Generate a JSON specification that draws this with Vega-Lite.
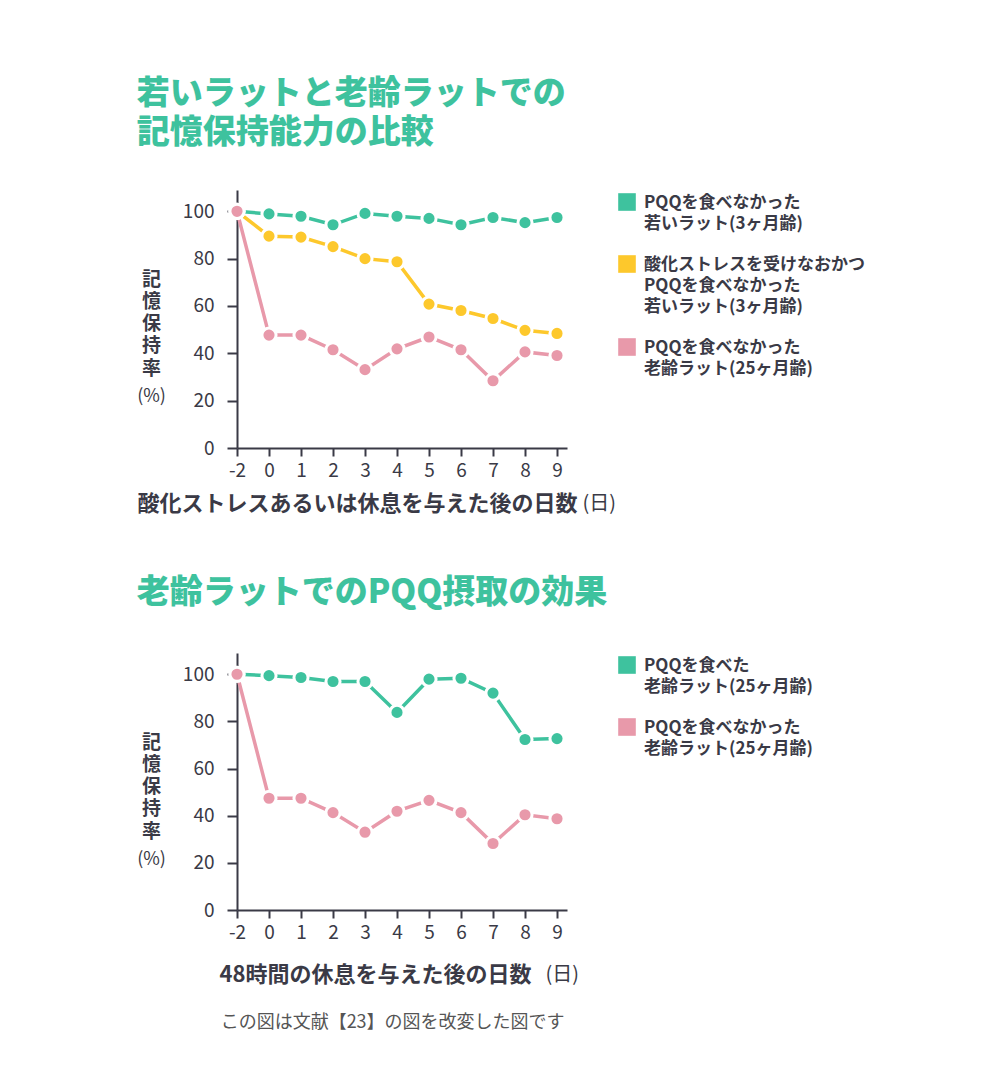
{
  "$schema": "https://vega.github.io/schema/vega-lite/v6.json",
  "background": "white",
  "padding": {"left": 136, "top": 78, "right": 0, "bottom": 0},
  "config": {
    "font": "Noto Sans CJK JP",
    "view": {"stroke": null},
    "axis": {
      "grid": false,
      "domainColor": "#3a3a46",
      "domainWidth": 2,
      "tickColor": "#3a3a46",
      "tickWidth": 2,
      "labelColor": "#3a3a46",
      "labelFontSize": 19,
      "titleColor": "#3a3a46"
    },
    "legend": {
      "orient": "right",
      "offset": 48,
      "padding": 3,
      "labelFontSize": 17,
      "labelFontWeight": "bold",
      "labelColor": "#3a3a46",
      "labelLimit": 0,
      "labelOffset": 8,
      "labelBaseline": "alphabetic",
      "symbolType": "square",
      "symbolSize": 310,
      "symbolStrokeWidth": 0,
      "symbolOpacity": 1,
      "rowPadding": 23,
      "title": null
    }
  },
  "title": {
    "text": "この図は文献【23】の図を改変した図です",
    "orient": "bottom",
    "anchor": "start",
    "dx": 84,
    "offset": 29,
    "fontSize": 18,
    "fontWeight": "normal",
    "color": "#555555"
  },
  "datasets": {
    "top": [
      {"day": -2, "value": 100, "series": "PQQを食べなかった|若いラット(3ヶ月齢)"},
      {"day": 0, "value": 98.9, "series": "PQQを食べなかった|若いラット(3ヶ月齢)"},
      {"day": 1, "value": 97.9, "series": "PQQを食べなかった|若いラット(3ヶ月齢)"},
      {"day": 2, "value": 94.3, "series": "PQQを食べなかった|若いラット(3ヶ月齢)"},
      {"day": 3, "value": 99.1, "series": "PQQを食べなかった|若いラット(3ヶ月齢)"},
      {"day": 4, "value": 97.9, "series": "PQQを食べなかった|若いラット(3ヶ月齢)"},
      {"day": 5, "value": 97.0, "series": "PQQを食べなかった|若いラット(3ヶ月齢)"},
      {"day": 6, "value": 94.3, "series": "PQQを食べなかった|若いラット(3ヶ月齢)"},
      {"day": 7, "value": 97.4, "series": "PQQを食べなかった|若いラット(3ヶ月齢)"},
      {"day": 8, "value": 95.2, "series": "PQQを食べなかった|若いラット(3ヶ月齢)"},
      {"day": 9, "value": 97.4, "series": "PQQを食べなかった|若いラット(3ヶ月齢)"},
      {"day": -2, "value": 100, "series": "酸化ストレスを受けなおかつ|PQQを食べなかった|若いラット(3ヶ月齢)"},
      {"day": 0, "value": 89.5, "series": "酸化ストレスを受けなおかつ|PQQを食べなかった|若いラット(3ヶ月齢)"},
      {"day": 1, "value": 89.1, "series": "酸化ストレスを受けなおかつ|PQQを食べなかった|若いラット(3ヶ月齢)"},
      {"day": 2, "value": 85.1, "series": "酸化ストレスを受けなおかつ|PQQを食べなかった|若いラット(3ヶ月齢)"},
      {"day": 3, "value": 80.0, "series": "酸化ストレスを受けなおかつ|PQQを食べなかった|若いラット(3ヶ月齢)"},
      {"day": 4, "value": 78.7, "series": "酸化ストレスを受けなおかつ|PQQを食べなかった|若いラット(3ヶ月齢)"},
      {"day": 5, "value": 60.8, "series": "酸化ストレスを受けなおかつ|PQQを食べなかった|若いラット(3ヶ月齢)"},
      {"day": 6, "value": 58.1, "series": "酸化ストレスを受けなおかつ|PQQを食べなかった|若いラット(3ヶ月齢)"},
      {"day": 7, "value": 54.7, "series": "酸化ストレスを受けなおかつ|PQQを食べなかった|若いラット(3ヶ月齢)"},
      {"day": 8, "value": 49.7, "series": "酸化ストレスを受けなおかつ|PQQを食べなかった|若いラット(3ヶ月齢)"},
      {"day": 9, "value": 48.4, "series": "酸化ストレスを受けなおかつ|PQQを食べなかった|若いラット(3ヶ月齢)"},
      {"day": -2, "value": 100, "series": "PQQを食べなかった|老齢ラット(25ヶ月齢)"},
      {"day": 0, "value": 47.7, "series": "PQQを食べなかった|老齢ラット(25ヶ月齢)"},
      {"day": 1, "value": 47.7, "series": "PQQを食べなかった|老齢ラット(25ヶ月齢)"},
      {"day": 2, "value": 41.5, "series": "PQQを食べなかった|老齢ラット(25ヶ月齢)"},
      {"day": 3, "value": 33.1, "series": "PQQを食べなかった|老齢ラット(25ヶ月齢)"},
      {"day": 4, "value": 41.9, "series": "PQQを食べなかった|老齢ラット(25ヶ月齢)"},
      {"day": 5, "value": 46.9, "series": "PQQを食べなかった|老齢ラット(25ヶ月齢)"},
      {"day": 6, "value": 41.5, "series": "PQQを食べなかった|老齢ラット(25ヶ月齢)"},
      {"day": 7, "value": 28.4, "series": "PQQを食べなかった|老齢ラット(25ヶ月齢)"},
      {"day": 8, "value": 40.6, "series": "PQQを食べなかった|老齢ラット(25ヶ月齢)"},
      {"day": 9, "value": 39.1, "series": "PQQを食べなかった|老齢ラット(25ヶ月齢)"}
    ],
    "bottom": [
      {"day": -2, "value": 100, "series": "PQQを食べた|老齢ラット(25ヶ月齢)"},
      {"day": 0, "value": 99.4, "series": "PQQを食べた|老齢ラット(25ヶ月齢)"},
      {"day": 1, "value": 98.6, "series": "PQQを食べた|老齢ラット(25ヶ月齢)"},
      {"day": 2, "value": 96.9, "series": "PQQを食べた|老齢ラット(25ヶ月齢)"},
      {"day": 3, "value": 96.9, "series": "PQQを食べた|老齢ラット(25ヶ月齢)"},
      {"day": 4, "value": 83.8, "series": "PQQを食べた|老齢ラット(25ヶ月齢)"},
      {"day": 5, "value": 97.9, "series": "PQQを食べた|老齢ラット(25ヶ月齢)"},
      {"day": 6, "value": 98.3, "series": "PQQを食べた|老齢ラット(25ヶ月齢)"},
      {"day": 7, "value": 92.0, "series": "PQQを食べた|老齢ラット(25ヶ月齢)"},
      {"day": 8, "value": 72.3, "series": "PQQを食べた|老齢ラット(25ヶ月齢)"},
      {"day": 9, "value": 72.7, "series": "PQQを食べた|老齢ラット(25ヶ月齢)"},
      {"day": -2, "value": 100, "series": "PQQを食べなかった|老齢ラット(25ヶ月齢)"},
      {"day": 0, "value": 47.4, "series": "PQQを食べなかった|老齢ラット(25ヶ月齢)"},
      {"day": 1, "value": 47.4, "series": "PQQを食べなかった|老齢ラット(25ヶ月齢)"},
      {"day": 2, "value": 41.3, "series": "PQQを食べなかった|老齢ラット(25ヶ月齢)"},
      {"day": 3, "value": 33.0, "series": "PQQを食べなかった|老齢ラット(25ヶ月齢)"},
      {"day": 4, "value": 41.9, "series": "PQQを食べなかった|老齢ラット(25ヶ月齢)"},
      {"day": 5, "value": 46.5, "series": "PQQを食べなかった|老齢ラット(25ヶ月齢)"},
      {"day": 6, "value": 41.3, "series": "PQQを食べなかった|老齢ラット(25ヶ月齢)"},
      {"day": 7, "value": 28.2, "series": "PQQを食べなかった|老齢ラット(25ヶ月齢)"},
      {"day": 8, "value": 40.4, "series": "PQQを食べなかった|老齢ラット(25ヶ月齢)"},
      {"day": 9, "value": 38.7, "series": "PQQを食べなかった|老齢ラット(25ヶ月齢)"}
    ]
  },
  "resolve": {"scale": {"color": "independent"}, "legend": {"color": "independent"}},
  "spacing": 63,
  "vconcat": [
    {
      "title": {
        "text": ["若いラットと老齢ラットでの", "記憶保持能力の比較"],
        "anchor": "start",
        "fontSize": 33,
        "fontWeight": 900,
        "color": "#3ec29e",
        "lineHeight": 39,
        "offset": 40
      },
      "width": 330,
      "height": 258,
      "data": {"name": "top"},
      "resolve": {"axis": {"x": "independent", "y": "independent"}},
      "encoding": {
        "color": {
          "field": "series",
          "type": "nominal",
          "sort": null,
          "scale": {
            "domain": [
              "PQQを食べなかった|若いラット(3ヶ月齢)",
              "酸化ストレスを受けなおかつ|PQQを食べなかった|若いラット(3ヶ月齢)",
              "PQQを食べなかった|老齢ラット(25ヶ月齢)"
            ],
            "range": ["#3ec29e", "#fdc82c", "#e899aa"]
          },
          "legend": {
            "labelExpr": "split(datum.label, '|')",
            "encode": {"labels": {"update": {"dy": {"value": 6}, "lineHeight": {"value": 21}}}}
          }
        }
      },
      "layer": [
        {
          "mark": {"type": "line", "strokeWidth": 3.5},
          "encoding": {
            "x": {
              "field": "day",
              "type": "ordinal",
              "scale": {"type": "point", "padding": 0.15625, "align": 0},
              "axis": {
                "orient": "bottom",
                "title": "酸化ストレスあるいは休息を与えた後の日数",
                "titleX": -100,
                "titleY": 55,
                "titleAlign": "left",
                "titleBaseline": "middle",
                "titleFontSize": 22,
                "titleFontWeight": "bold",
                "labelAngle": 0,
                "tickSize": 8,
                "labelPadding": 5
              }
            },
            "y": {
              "field": "value",
              "type": "quantitative",
              "scale": {"domain": [0, 109], "nice": false, "zero": true},
              "axis": {
                "orient": "left",
                "values": [0, 20, 40, 60, 80, 100],
                "title": ["記", "憶", "保", "持", "率"],
                "titleAngle": 0,
                "titleAlign": "center",
                "titleBaseline": "top",
                "titleX": -86,
                "titleY": 80,
                "titleFontSize": 19,
                "titleFontWeight": "bold",
                "titleLineHeight": 22.3,
                "tickSize": 10,
                "labelPadding": 13
              }
            }
          }
        },
        {
          "mark": {"type": "point", "filled": true, "size": 200, "stroke": "white", "strokeWidth": 3, "opacity": 1},
          "encoding": {
            "x": {
              "field": "day",
              "type": "ordinal",
              "axis": {
                "orient": "bottom",
                "title": "(日)",
                "labels": false,
                "ticks": false,
                "domain": false,
                "titleX": 345,
                "titleY": 55,
                "titleAlign": "left",
                "titleBaseline": "middle",
                "titleFontSize": 20,
                "titleFontWeight": "normal"
              }
            },
            "y": {
              "field": "value",
              "type": "quantitative",
              "axis": {
                "orient": "left",
                "title": "(%)",
                "labels": false,
                "ticks": false,
                "domain": false,
                "titleAngle": 0,
                "titleAlign": "center",
                "titleBaseline": "middle",
                "titleX": -86,
                "titleY": 206,
                "titleFontSize": 18,
                "titleFontWeight": "normal"
              }
            }
          }
        }
      ]
    },
    {
      "title": {
        "text": "老齢ラットでのPQQ摂取の効果",
        "anchor": "start",
        "fontSize": 33,
        "fontWeight": 900,
        "color": "#3ec29e",
        "lineHeight": 39,
        "offset": 43
      },
      "width": 330,
      "height": 257,
      "data": {"name": "bottom"},
      "resolve": {"axis": {"x": "independent", "y": "independent"}},
      "encoding": {
        "color": {
          "field": "series",
          "type": "nominal",
          "sort": null,
          "scale": {
            "domain": [
              "PQQを食べた|老齢ラット(25ヶ月齢)",
              "PQQを食べなかった|老齢ラット(25ヶ月齢)"
            ],
            "range": ["#3ec29e", "#e899aa"]
          },
          "legend": {
            "labelExpr": "split(datum.label, '|')",
            "encode": {"labels": {"update": {"dy": {"value": 6}, "lineHeight": {"value": 21}}}}
          }
        }
      },
      "layer": [
        {
          "mark": {"type": "line", "strokeWidth": 3.5},
          "encoding": {
            "x": {
              "field": "day",
              "type": "ordinal",
              "scale": {"type": "point", "padding": 0.15625, "align": 0},
              "axis": {
                "orient": "bottom",
                "title": "48時間の休息を与えた後の日数",
                "titleX": -18,
                "titleY": 64,
                "titleAlign": "left",
                "titleBaseline": "middle",
                "titleFontSize": 22,
                "titleFontWeight": "bold",
                "labelAngle": 0,
                "tickSize": 8,
                "labelPadding": 5
              }
            },
            "y": {
              "field": "value",
              "type": "quantitative",
              "scale": {"domain": [0, 109], "nice": false, "zero": true},
              "axis": {
                "orient": "left",
                "values": [0, 20, 40, 60, 80, 100],
                "title": ["記", "憶", "保", "持", "率"],
                "titleAngle": 0,
                "titleAlign": "center",
                "titleBaseline": "top",
                "titleX": -86,
                "titleY": 80,
                "titleFontSize": 19,
                "titleFontWeight": "bold",
                "titleLineHeight": 22.3,
                "tickSize": 10,
                "labelPadding": 13
              }
            }
          }
        },
        {
          "mark": {"type": "point", "filled": true, "size": 200, "stroke": "white", "strokeWidth": 3, "opacity": 1},
          "encoding": {
            "x": {
              "field": "day",
              "type": "ordinal",
              "axis": {
                "orient": "bottom",
                "title": "(日)",
                "labels": false,
                "ticks": false,
                "domain": false,
                "titleX": 308,
                "titleY": 64,
                "titleAlign": "left",
                "titleBaseline": "middle",
                "titleFontSize": 20,
                "titleFontWeight": "normal"
              }
            },
            "y": {
              "field": "value",
              "type": "quantitative",
              "axis": {
                "orient": "left",
                "title": "(%)",
                "labels": false,
                "ticks": false,
                "domain": false,
                "titleAngle": 0,
                "titleAlign": "center",
                "titleBaseline": "middle",
                "titleX": -86,
                "titleY": 206,
                "titleFontSize": 18,
                "titleFontWeight": "normal"
              }
            }
          }
        }
      ]
    }
  ]
}
